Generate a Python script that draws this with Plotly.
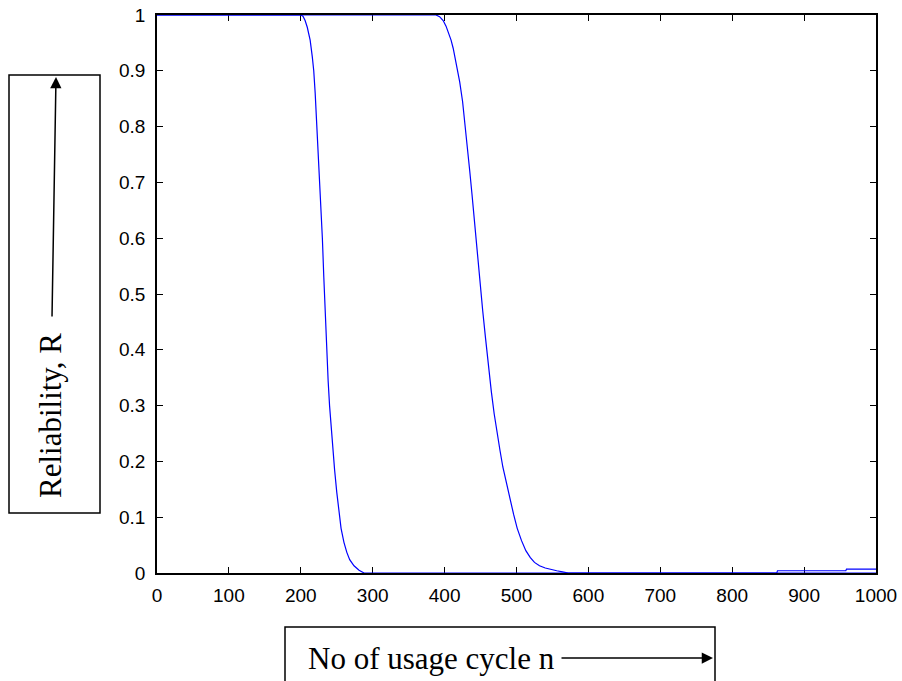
import plotly.graph_objects as go

# Curve 1: reliability vs usage cycles (first design)
n1 = [0, 100, 200, 203, 206, 209, 213, 216, 218, 220, 222, 224, 226, 228, 230,
      232, 234, 236, 238, 240, 243, 247, 250, 253, 256, 260, 264, 268, 274, 281,
      288, 400, 600, 800, 1000]
r1 = [1.0, 1.0, 1.0, 0.998, 0.99, 0.978, 0.955, 0.925, 0.90, 0.86, 0.81, 0.765,
      0.72, 0.665, 0.60, 0.53, 0.46, 0.40, 0.345, 0.30, 0.245, 0.185, 0.145,
      0.11, 0.08, 0.055, 0.037, 0.024, 0.013, 0.005, 0.0, 0.0, 0.0, 0.0, 0.0]

# Curve 2: reliability vs usage cycles (second design)
n2 = [0, 200, 388, 393, 398, 402, 405, 409, 412, 416, 421, 425, 428, 432, 435,
      438, 441, 445, 449, 453, 457, 461, 465, 469, 473, 477, 481, 486, 491, 496,
      501, 507, 513, 519, 525, 532, 540, 548, 556, 564, 572, 700, 862, 863, 958,
      959, 1000]
r2 = [1.0, 1.0, 1.0, 0.997, 0.99, 0.98, 0.97, 0.955, 0.94, 0.915, 0.88, 0.845,
      0.81, 0.765, 0.72, 0.68, 0.635, 0.575, 0.52, 0.47, 0.42, 0.37, 0.325,
      0.285, 0.25, 0.22, 0.19, 0.16, 0.13, 0.105, 0.08, 0.058, 0.04, 0.028,
      0.019, 0.013, 0.009, 0.006, 0.004, 0.002, 0.0, 0.0, 0.0, 0.004, 0.004,
      0.007, 0.007]

x_ticks = [0, 100, 200, 300, 400, 500, 600, 700, 800, 900, 1000]
y_ticks = [0, 0.1, 0.2, 0.3, 0.4, 0.5, 0.6, 0.7, 0.8, 0.9, 1]

y_label = "Reliability, R"
x_label = "No of usage cycle n"

W, H = 902, 681
L, R_, T, B = 157, 26, 15, 108
pw, ph = W - L - R_, H - T - B


def px(x):
    return (x - L) / pw


def py(y):
    return (H - B - y) / ph


fig = go.Figure()
for xs, ys in ((n1, r1), (n2, r2)):
    fig.add_trace(go.Scatter(x=xs, y=ys, mode="lines",
                             line=dict(color="#0000ff", width=1.2),
                             showlegend=False, cliponaxis=False))

axis_common = dict(showgrid=False, zeroline=False, showline=True,
                   linecolor="black", linewidth=1.5, mirror="ticks",
                   ticks="inside", ticklen=6, tickwidth=1.2, tickcolor="black",
                   layer="below traces",
                   tickfont=dict(family="Liberation Sans, Arial", size=19,
                                 color="black"))

fig.update_xaxes(range=[0, 1000], tickvals=x_ticks, ticklabelstandoff=4,
                 **axis_common)
fig.update_yaxes(range=[0, 1], tickvals=y_ticks, ticklabelstandoff=6,
                 **axis_common)

shapes = [
    dict(type="rect", xref="paper", yref="paper",
         x0=px(9), x1=px(100), y0=py(513), y1=py(75),
         line=dict(color="black", width=1.5)),
    dict(type="rect", xref="paper", yref="paper",
         x0=px(285), x1=px(715), y0=py(720), y1=py(627),
         line=dict(color="black", width=1.5)),
]

annotations = [
    dict(xref="paper", yref="paper", x=px(50), y=py(415), text=y_label,
         showarrow=False, textangle=-90, xanchor="center", yanchor="middle",
         font=dict(family="Liberation Serif, Times New Roman", size=31,
                   color="black")),
    dict(xref="paper", yref="paper", x=px(306), y=py(658), text=x_label,
         showarrow=False, xanchor="left", yanchor="middle",
         font=dict(family="Liberation Serif, Times New Roman", size=31,
                   color="black")),
    dict(xref="paper", yref="paper", x=px(56), y=py(77), text="",
         showarrow=True, axref="pixel", ayref="pixel", ax=-4, ay=241,
         arrowhead=2, arrowsize=1.5, arrowwidth=1.5, arrowcolor="black"),
    dict(xref="paper", yref="paper", x=px(713), y=py(658), text="",
         showarrow=True, axref="pixel", ayref="pixel", ax=-153, ay=0,
         arrowhead=2, arrowsize=1.5, arrowwidth=1.5, arrowcolor="black"),
]

fig.update_layout(width=W, height=H,
                  margin=dict(l=L, r=R_, t=T, b=B, autoexpand=False),
                  paper_bgcolor="white", plot_bgcolor="white",
                  shapes=shapes, annotations=annotations)

fig.write_html("out.html")
